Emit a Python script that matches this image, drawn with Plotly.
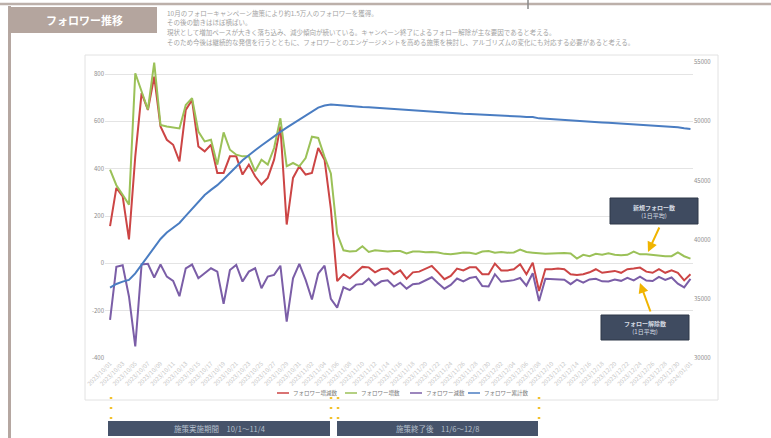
import plotly.graph_objects as go
import pandas as pd

# ---------------- data ----------------
net_change = [157, 319, 283, 101, 452, 719, 648, 789, 578, 522, 501, 431, 648, 690, 494, 473, 501, 382, 382, 452,
              452, 375, 417, 368, 333, 361, 438, 578, 164, 361, 410, 375, 382, 487, 438, 230, -75,
              -46, -63, -38, -15, -17, -38, -24, -22, -46, -30, -65, -38, -35, -24, -11, -38, -67, -53, -22,
              -30, -17, -17, -46, -46, -1, -30, -30, -25, -4, -46, 3, -117, -25, -25, -22, -25, -46, -49, -46,
              -38, -25, -40, -35, -32, -40, -25, -22, -18, -35, -40, -25, -40, -30, -40, -72, -46]
gained = [396, 330, 290, 248, 803, 726, 650, 848, 585, 578, 575, 570, 669, 698, 557, 515, 522, 417, 553, 480,
          459, 452, 452, 389, 438, 417, 487, 613, 410, 424, 410, 445, 535, 530, 450, 380, 125,
          55, 50, 52, 72, 48, 55, 52, 50, 52, 52, 42, 50, 50, 47, 48, 46, 40, 38, 42,
          46, 45, 40, 50, 52, 45, 48, 45, 46, 58, 48, 45, 42, 40, 42, 44, 44, 42, 20, 36,
          30, 40, 36, 42, 36, 34, 36, 50, 38, 38, 35, 32, 30, 30, 46, 30, 20]
lost = [-239, -15, -8, -140, -351, -5, -2, -60, -5, -56, -74, -139, -21, -5, -63, -42, -21, -35, -171, -28,
        -7, -77, -35, -21, -105, -56, -49, -10, -246, -63, -2, -70, -153, -43, -10, -150, -187,
        -101, -113, -90, -87, -65, -93, -76, -72, -98, -82, -107, -88, -85, -71, -59, -84, -107, -91, -64,
        -76, -62, -57, -96, -98, -46, -78, -75, -71, -62, -94, -42, -159, -65, -67, -66, -69, -88, -69, -82,
        -68, -65, -76, -77, -68, -74, -61, -72, -56, -73, -75, -57, -70, -60, -86, -102, -66]
total = [35940, 36250, 36450, 36600, 37150, 37900, 38650, 39350, 40050, 40600, 41000, 41400, 42000, 42600,
         43200, 43770, 44200, 44600, 45100, 45600, 46150, 46700, 47150, 47550, 47950, 48350, 48700, 49100,
         49450, 49800, 50150, 50500, 50850, 51150, 51320, 51400, 51360,
         51310, 51250, 51210, 51190, 51170, 51130, 51100, 51080, 51030, 51000, 50940, 50900, 50860, 50840,
         50830, 50790, 50720, 50670, 50650, 50620, 50600, 50580, 50540, 50490, 50490, 50460, 50430, 50400,
         50400, 50350, 50350, 50240, 50210, 50190, 50170, 50140, 50100, 50050, 50000, 49960, 49940, 49900,
         49860, 49830, 49790, 49760, 49740, 49720, 49690, 49620, 49590, 49550, 49520, 49480, 49400, 49340]

dates = [d.strftime("%Y/%m/%d") for d in pd.date_range("2023-10-01", periods=len(net_change))]
label_dates = dates[::2]

series_names = ["フォロワー増減数", "フォロワー増数", "フォロワー減数", "フォロワー累計数"]
series_colors = ["#cc4545", "#9bc158", "#7b5ea7", "#4a7dc2"]

left_ticks = [-400, -200, 0, 200, 400, 600, 800]
right_ticks = [30000, 35000, 40000, 45000, 50000, 55000]

title_text = "フォロワー推移"
memo_lines = [
    "10月のフォローキャンペーン施策により約1.5万人のフォロワーを獲得。",
    "その後の動きはほぼ横ばい。",
    "現状として増加ペースが大きく落ち込み、減少傾向が続いている。キャンペーン終了によるフォロー解除が主な要因であると考える。",
    "そのため今後は継続的な発信を行うとともに、フォロワーとのエンゲージメントを高める施策を検討し、アルゴリズムの変化にも対応する必要があると考える。",
]
callout_top = ["新規フォロー数", "(1日平均)"]
callout_bottom = ["フォロー解除数", "(1日平均)"]
period_labels = ["施策実施期間　10/1〜11/4", "施策終了後　11/6〜12/8"]

# ---------------- figure ----------------
W, H = 771, 438
FONT = "Noto Sans CJK JP"


def px(x):
    return x / W


def py(y):
    return 1 - y / H


fig = go.Figure()
for vals, name, col in zip([net_change, gained, lost], series_names[:3], series_colors[:3]):
    fig.add_trace(go.Scatter(x=dates, y=vals, name=name, mode="lines",
                             line=dict(color=col, width=2), yaxis="y"))
fig.add_trace(go.Scatter(x=dates, y=total, name=series_names[3], mode="lines",
                         line=dict(color=series_colors[3], width=2), yaxis="y2"))

shapes = []
annotations = []


def label(x, y, text, size, color, xanchor="center"):
    annotations.append(dict(xref="paper", yref="paper", x=px(x), y=py(y), xanchor=xanchor,
                            yanchor="middle", text=text, showarrow=False,
                            font=dict(family=FONT, size=size, color=color)))


# slide frame
shapes.append(dict(type="line", xref="paper", yref="paper", x0=0, x1=1, y0=py(4), y1=py(4),
                   line=dict(color="#bcb0aa", width=2.5)))
shapes.append(dict(type="line", xref="paper", yref="paper", x0=px(528), x1=px(528), y0=py(0), y1=py(9),
                   line=dict(color="#8a8a8a", width=1.5)))
shapes.append(dict(type="line", xref="paper", yref="paper", x0=px(9.5), x1=px(9.5), y0=py(6), y1=py(438),
                   line=dict(color="#b5a7a1", width=3)))
shapes.append(dict(type="rect", xref="paper", yref="paper", x0=px(9), x1=px(157), y0=py(33), y1=py(7),
                   fillcolor="#b4a59e", line=dict(width=0)))
label(84, 20, "<b>" + title_text + "</b>", 11, "white")
for i, line in enumerate(memo_lines):
    label(165, 13 + 9.5 * i, line, 6.5, "#a3a3a3", xanchor="left")

# chart box
shapes.append(dict(type="rect", xref="paper", yref="paper", x0=px(85), x1=px(718), y0=py(400), y1=py(55),
                   fillcolor="white", line=dict(color="#e2e2e2", width=1), layer="below"))

# custom legend
leg_x = [277, 345, 410, 468]
for lx, name, col in zip(leg_x, series_names, series_colors):
    shapes.append(dict(type="line", xref="paper", yref="paper", x0=px(lx), x1=px(lx + 12),
                       y0=py(393), y1=py(393), line=dict(color=col, width=1.5)))
    label(lx + 13.5, 393, name, 5.5, "#7a7a7a", xanchor="left")

# period markers below chart
for vx in [111, 331, 338, 539]:
    shapes.append(dict(type="line", xref="paper", yref="paper", x0=px(vx), x1=px(vx),
                       y0=py(397), y1=py(421),
                       line=dict(color="#f2c12e", width=2.5, dash="2px,8px")))
for (bx0, bx1), lab in zip([(108, 330), (337, 538)], period_labels):
    shapes.append(dict(type="rect", xref="paper", yref="paper", x0=px(bx0), x1=px(bx1),
                       y0=py(436), y1=py(421), fillcolor="#46536a", line=dict(width=0)))
    label((bx0 + bx1) / 2, 428.5, lab, 7.5, "#b7c0cd")

# callouts
for (bx0, bx1, by0, by1), lines in zip([(610, 698, 198, 224), (601, 689, 315, 340)],
                                        [callout_top, callout_bottom]):
    shapes.append(dict(type="rect", xref="paper", yref="paper", x0=px(bx0), x1=px(bx1),
                       y0=py(by1), y1=py(by0), fillcolor="#3f4b60",
                       line=dict(color="#2e3848", width=1)))
    label((bx0 + bx1) / 2, (by0 + by1) / 2, "<b>" + lines[0] + "</b><br>" + lines[1], 6, "#d6dbe3")
annotations.append(dict(xref="paper", yref="paper", x=px(648), y=py(252), text="", showarrow=True,
                        ax=12, ay=-26, arrowhead=2, arrowsize=1, arrowwidth=2, arrowcolor="#f0b400"))
annotations.append(dict(xref="paper", yref="paper", x=px(640), y=py(283), text="", showarrow=True,
                        ax=11, ay=30, arrowhead=2, arrowsize=1, arrowwidth=2, arrowcolor="#f0b400"))

fig.update_layout(
    width=W, height=H, autosize=False,
    margin=dict(l=0, r=0, t=0, b=0, autoexpand=False),
    paper_bgcolor="white", plot_bgcolor="rgba(0,0,0,0)",
    showlegend=False,
    font=dict(family=FONT),
    xaxis=dict(domain=[px(105), px(693)], type="category", range=[-0.8, len(dates) - 0.6],
               tickmode="array", tickvals=label_dates, ticktext=label_dates, tickangle=-45,
               tickfont=dict(size=6, color="#c8c8c8"), showgrid=False, showline=False,
               zeroline=False, ticks="", automargin=False),
    yaxis=dict(domain=[py(358), py(62)], range=[-400, 850.7], tickmode="array", tickvals=left_ticks,
               ticktext=[str(v) for v in left_ticks],
               showgrid=True, gridcolor="#e4e4e4", gridwidth=1, zeroline=False, showline=False,
               tickfont=dict(size=6, color="#8c8c8c"), ticks="", automargin=False),
    yaxis2=dict(overlaying="y", side="right", range=[30000, 55000], tickmode="array",
                tickvals=right_ticks, ticktext=[str(v) for v in right_ticks],
                showgrid=False, zeroline=False, showline=False,
                tickfont=dict(size=6, color="#8c8c8c"), ticks="", automargin=False),
    shapes=shapes,
    annotations=annotations,
)

fig.write_html("out.html")
